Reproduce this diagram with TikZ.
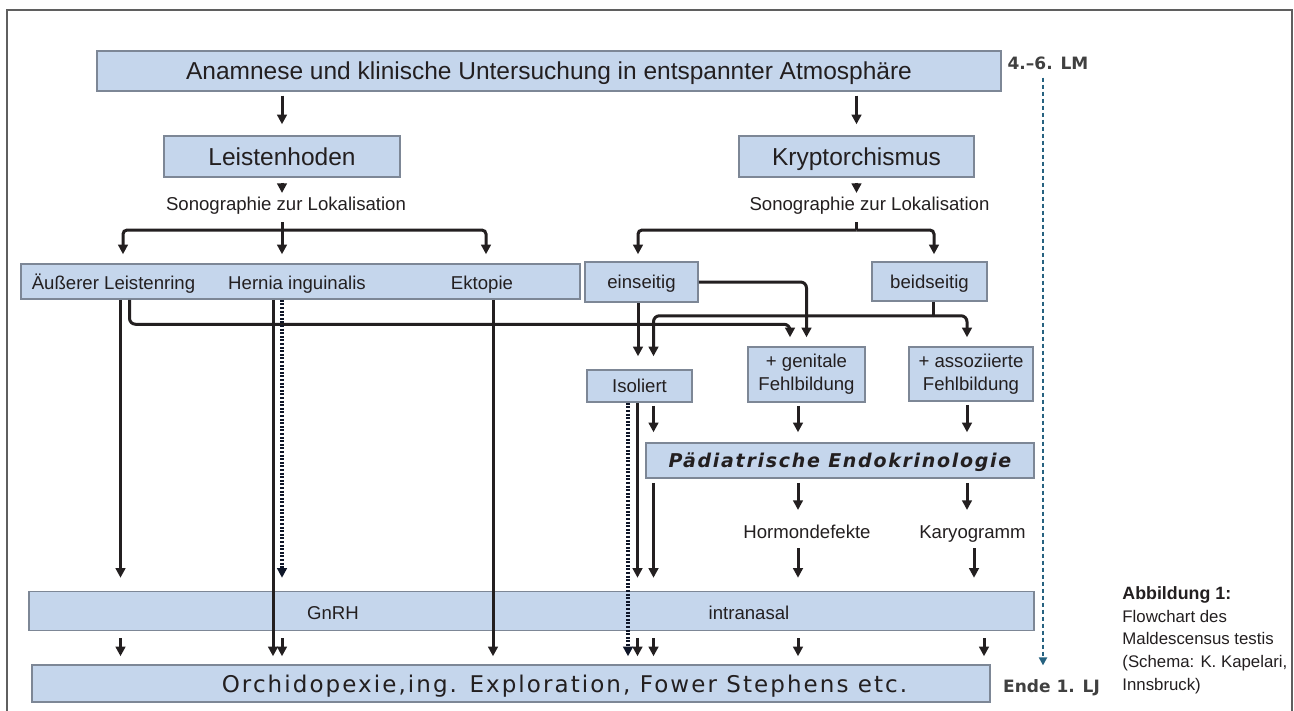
\documentclass[tikz,border=0pt]{standalone}
\usepackage{fontspec}
\usepackage{xcolor}
\usepackage{tikz}
\usetikzlibrary{arrows.meta, positioning, calc}
\setmainfont{Liberation Sans}
\newfontfamily\widefont[LetterSpace=9]{DejaVu Sans}
\newfontfamily\markfont{DejaVu Sans}
\definecolor{BoxBlue}{RGB}{197,214,236}
\definecolor{BoxEdge}{RGB}{125,135,150}
\definecolor{InkGray}{RGB}{35,31,32}
\definecolor{TimeTeal}{RGB}{38,98,128}
\definecolor{FrameGray}{RGB}{95,95,95}
\definecolor{DotBlue}{RGB}{15,22,40}
\tikzset{
    box/.style={draw=BoxEdge, fill=BoxBlue, line width=0.75pt, inner sep=0pt},
    wh/.style 2 args={minimum width=#1*0.5pt, minimum height=#2*0.5pt},
    lbl/.style={inner sep=0pt, text height=6.65pt, text depth=0pt, font=\fontsize{9.3pt}{11.5pt}\selectfont},
    big/.style={inner sep=0pt, text height=8.8pt, text depth=0pt, font=\fontsize{12.25pt}{14pt}\selectfont},
    two/.style={align=center, font=\fontsize{9.3pt}{11.5pt}\selectfont},
    wide/.style={inner sep=0pt, text height=6.2pt, text depth=0pt, text=black!75, font=\markfont\bfseries\fontsize{8.5pt}{10pt}\selectfont},
    arr/.style={line width=1.5pt, InkGray, -{Triangle[length=4.8pt, width=4.8pt]}},
    link/.style={line width=1.5pt, InkGray},
    dotarr/.style={line width=1.6pt, DotBlue, dash pattern=on 1pt off 0.8pt, -{Triangle[length=4.8pt, width=4.8pt]}},
    timeline/.style={line width=1.1pt, TimeTeal, dash pattern=on 2pt off 1.5pt, -{Triangle[length=4pt, width=4pt]}}
}

\begin{document}
\begin{tikzpicture}[x=0.5pt, y=-0.5pt, text=InkGray]
    \useasboundingbox (0,0) rectangle (1294,711);
    \fill[white] (0,0) rectangle (1294,711);
    \draw[FrameGray, line width=1pt] (7,712) -- (7,10) -- (1292,10) -- (1292,712);

    % Kaesten
    \node[box, big, wh={904}{40}] (top) at (549,71) {Anamnese und klinische Untersuchung in entspannter Atmosphäre};
    \node[box, big, wh={236}{41}] (leisten) at (282,156.5) {Leistenhoden};
    \node[box, big, wh={235}{41}] (krypto) at (856.5,156.5) {Kryptorchismus};
    \node[lbl] (sono1) at (286,204) {Sonographie zur Lokalisation};
    \node[lbl] (sono2) at (869.5,204) {Sonographie zur Lokalisation};

    \node[box, wh={559}{35}] (row) at (300.5,281.5) {};
    \node[lbl] (aeuss) at (113.5,283) {Äußerer Leistenring};
    \node[lbl] (hernia) at (297,283) {Hernia inguinalis};
    \node[lbl] (ektopie) at (482,283) {Ektopie};
    \node[box, lbl, wh={113}{40}] (einseitig) at (641.5,282) {einseitig};
    \node[box, lbl, wh={115}{39}] (beidseitig) at (929.5,281.5) {beidseitig};

    \node[box, lbl, wh={105}{32}] (isoliert) at (639.5,386) {Isoliert};
    \node[box, two, inner sep=0pt, wh={117}{55}] (genitale) at (806.5,374.5) {+ genitale\\Fehlbildung};
    \node[box, two, inner sep=0pt, wh={124}{54}] (assoz) at (971,374) {+ assoziierte\\Fehlbildung};
    \node[box, wh={388}{35}, text height=6.9pt, text depth=0pt, font=\widefont\bfseries\itshape\fontsize{9.5pt}{11pt}\selectfont] (endo) at (840,460.5) {Pädiatrische Endokrinologie};
    \node[lbl] (hormon) at (807,532) {Hormondefekte};
    \node[lbl] (karyo) at (972.5,532) {Karyogramm};

    \node[box, wh={1005}{39}] (gnrh) at (531.5,611) {};
    \node[lbl] (gnrhtxt) at (333,613) {GnRH};
    \node[lbl] (nasal) at (749,613) {intranasal};
    \node[box, wh={958}{37}] (orchi) at (511,683.5) {};
    \node[inner sep=0pt, text height=8.4pt, text depth=0pt, font=\widefont\fontsize{11.5pt}{13pt}\selectfont] (orchitxt) at (564.5,684) {Orchidopexie,ing. Exploration, Fower Stephens etc.};

    % Zeitachse und Legende
    \node[wide] (lm) at (1048,63) {4.–6. LM};
    \node[wide] (ende) at (1051.5,686) {Ende 1. LJ};
    \node[anchor=north west, inner sep=0pt, align=left, font=\fontsize{8.4pt}{11.35pt}\selectfont] (caption) at (1122,586)
        {{\bfseries\fontsize{8.9pt}{11.35pt}\selectfont Abbildung 1:}\\Flowchart des\\Maldescensus testis\\(Schema: K. Kapelari,\\Innsbruck)};

    % Anamnese -> Leistenhoden / Kryptorchismus
    \draw[arr, shorten <=2pt, shorten >=5.5pt] (top.south -| leisten) -- (leisten.north);
    \draw[arr, shorten <=2pt, shorten >=5.5pt] (top.south -| krypto) -- (krypto.north);
    \draw[arr, shorten <=2.5pt, shorten >=2pt] (leisten.south) -- (leisten |- sono1.north);
    \draw[arr, shorten <=2.5pt, shorten >=2pt] (krypto.south) -- (krypto |- sono2.north);

    % Verzweigung Leistenhoden
    \draw[link] ($(sono1.south -| leisten)+(0,11)$) -- ++(0,8) coordinate (f1);
    \draw[arr, rounded corners=2pt, shorten >=4.5pt] (f1) -| ($(aeuss |- row.north)+(9.5,0)$);
    \draw[arr, shorten >=4.5pt] (f1) -- (leisten |- row.north);
    \draw[arr, rounded corners=2pt, shorten >=4.5pt] (f1) -| ($(ektopie |- row.north)+(4,0)$);

    % Verzweigung Kryptorchismus
    \draw[link] ($(sono2.south -| krypto)+(0,11)$) -- ++(0,8) coordinate (f2);
    \draw[arr, rounded corners=2pt, shorten >=3.5pt] (f2) -| ($(einseitig.north)+(-3.5,0)$);
    \draw[arr, rounded corners=2pt, shorten >=3.5pt] (f2) -| ($(beidseitig.north)+(4.5,0)$);

    % aus der Zeile Leistenring / Hernie / Ektopie
    \draw[arr, shorten >=6.5pt] ($(aeuss |- row.south)+(7,0)$) -- ($(aeuss |- gnrh.north)+(7,0)$);
    \draw[arr, rounded corners=3pt, shorten >=4.5pt] ($(aeuss |- row.south)+(16,0)$) |- ($(genitale.north)+(-16.5,-22)$) -- ($(genitale.north)+(-16.5,0)$);
    \draw[arr, shorten >=4pt] ($(leisten |- row.south)+(-9,0)$) -- ($(leisten |- orchi.north)+(-9,0)$);
    \draw[dotarr, shorten >=6.5pt] (leisten |- row.south) -- (leisten |- gnrh.north);
    \draw[arr, shorten >=4pt] ($(ektopie |- row.south)+(11,0)$) -- ($(ektopie |- orchi.north)+(11,0)$);

    % einseitig / beidseitig
    \draw[arr, shorten >=6.5pt] ($(einseitig.south)+(-3.5,0)$) -- ($(einseitig.south |- isoliert.north)+(-3.5,0)$);
    \draw[arr, rounded corners=3pt, shorten >=4.5pt] (einseitig.east) -| (genitale.north);
    \draw[link] ($(beidseitig.south)+(3.5,0)$) -- ++(0,14) coordinate (f3);
    \draw[arr, rounded corners=3pt, shorten >=6.5pt] (f3) -| ($(isoliert.north)+(14,0)$);
    \draw[arr, rounded corners=3pt, shorten >=4.5pt] (f3) -| ($(assoz.north)+(-4,0)$);

    % Isoliert und Fehlbildungen
    \draw[dotarr, shorten >=4pt] ($(isoliert.south)+(-11.5,0)$) -- ($(isoliert.south |- orchi.north)+(-11.5,0)$);
    \draw[arr, shorten >=6.5pt] ($(isoliert.south)+(-2,0)$) -- ($(isoliert.south |- gnrh.north)+(-2,0)$);
    \draw[arr, shorten <=1.5pt, shorten >=5pt] ($(isoliert.south)+(14,0)$) -- ($(isoliert.south |- endo.north)+(14,0)$);
    \draw[arr, shorten <=1.5pt, shorten >=5pt] ($(genitale.south)+(-8.5,0)$) -- ($(genitale.south |- endo.north)+(-8.5,0)$);
    \draw[arr, shorten <=1.5pt, shorten >=5pt] ($(assoz.south)+(-4,0)$) -- ($(assoz.south |- endo.north)+(-4,0)$);

    % Endokrinologie
    \draw[arr, shorten <=2pt, shorten >=6.5pt] ($(isoliert |- endo.south)+(14,0)$) -- ($(isoliert |- gnrh.north)+(14,0)$);
    \draw[arr, shorten <=2pt, shorten >=7.5pt] ($(genitale |- endo.south)+(-8.5,0)$) -- ($(genitale |- hormon.north)+(-8.5,0)$);
    \draw[arr, shorten <=2pt, shorten >=7.5pt] ($(assoz |- endo.south)+(-4,0)$) -- ($(assoz |- karyo.north)+(-4,0)$);
    \draw[arr, shorten <=4.5pt, shorten >=6.5pt] ($(genitale |- hormon.south)+(-8.5,0)$) -- ($(genitale |- gnrh.north)+(-8.5,0)$);
    \draw[arr, shorten <=4.5pt, shorten >=6.5pt] ($(karyo.south)+(1.5,0)$) -- ($(karyo |- gnrh.north)+(1.5,0)$);

    % GnRH -> Orchidopexie
    \foreach \from/\dx in {aeuss/7, leisten/0, isoliert/-2, isoliert/14, genitale/-8.5, karyo/11.5}
        \draw[arr, shorten <=3.5pt, shorten >=4pt] ($(\from |- gnrh.south)+(\dx,0)$) -- ($(\from |- orchi.north)+(\dx,0)$);

    % Zeitachse
    \draw[timeline, shorten <=4pt, shorten >=7pt] ($(lm.south)+(-5,0)$) -- ($(lm.south |- ende.north)+(-5,0)$);
\end{tikzpicture}
\end{document}
